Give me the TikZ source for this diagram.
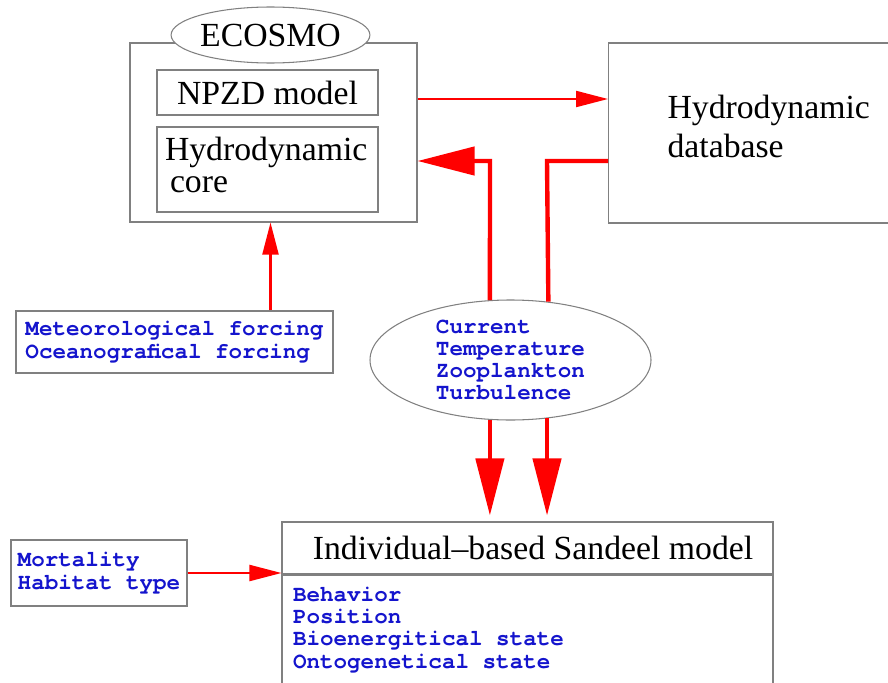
\documentclass[tikz,border=0pt]{standalone}
\usepackage{fontspec}
\setmainfont{Liberation Serif}
\setmonofont{TeX Gyre Cursor}
\usetikzlibrary{shapes}
\usetikzlibrary{calc}
\usetikzlibrary{arrows.meta}
\definecolor{listblue}{RGB}{20,20,205}
\providecommand\titlefont{\fontsize{19.2}{24.5}\selectfont}
\providecommand\listfont{\fontsize{12.85}{12.65}\selectfont\ttfamily\bfseries}

\begin{document}
\begin{tikzpicture}[%
        box/.style = {draw = black!50, line width = 0.6pt, fill = white, inner sep = 0pt},
        listtext/.style = {font = \listfont, text = listblue, align = left},
        thinarrow/.style = {draw = red, line width = 1.2pt,
            -{Triangle[length = 0.64cm, width = 0.32cm]}},
        fatline/.style = {draw = red, line width = 2.5pt},
        fatarrow/.style = {fatline, -{Triangle[length = 1.14cm, width = 0.56cm]}},
        ]

\useasboundingbox[] (0,0) rectangle (17.76,13.64);
\clip (0,0) rectangle (17.76,13.64);
% \draw (0,0) grid (17,13);


\node (eco) [box, minimum width = 5.74cm, minimum height = 3.58cm] at (5.47,10.99) {};
\node (econame) [box, ellipse, minimum width = 3.9cm, minimum height = 1.12cm] at (5.41,12.94)
    {\titlefont ECOSMO};
\node (npzd) [box, minimum width = 4.42cm, minimum height = 0.9cm] at (5.35,11.79)
    {\titlefont NPZD model};
\node (core) [box, minimum width = 4.42cm, minimum height = 1.7cm, text width = 4.1cm,
    align = left, font = \fontsize{19.2}{18}\selectfont] at (5.35,10.25)
    {Hydrodynamic\\ \hspace{0.1cm}core\strut};


\node (db) [box, anchor = west, minimum width = 6.46cm, minimum height = 3.6cm,
    text width = 4.1cm, align = left] at (12.16,10.98)
    {\titlefont Hydrodynamic\\ database\strut};


\node (met) [box, listtext, minimum width = 6.34cm, minimum height = 1.24cm] at (3.49,6.8)
    {Meteorological forcing\\ Oceanografical forcing};

\node (cur) [box, ellipse, listtext, minimum width = 5.62cm, minimum height = 2.4cm] at (10.21,6.44)
    {Current\\ Temperature\\ Zooplankton\\ Turbulence};


\node (mort) [box, listtext, minimum width = 3.52cm, minimum height = 1.32cm] at (1.98,2.18)
    {Mortality\\ Habitat type};

\node (ibm) [box, minimum width = 9.82cm, minimum height = 1.04cm] at (10.55,2.68)
    {\titlefont\hspace{0.22cm}Individual--based Sandeel model};
\node (state) [box, anchor = north, font = \listfont, text = listblue,
    inner xsep = 0.22cm, inner ysep = 0.24cm] at (ibm.south)
    {\parbox[t][2.3cm][t]{9.38cm}{\raggedright Behavior\\ Position\\
        Bioenergitical state\\ Ontogenetical state}};


\coordinate (npzdout) at ([yshift = -0.13cm]npzd.east);
\draw[thinarrow] (npzdout -| eco.east) -- (npzdout -| db.west);
\draw[thinarrow] (met.north -| econame.south) -- (eco.south -| econame.south);
\draw[thinarrow] (mort.east) -- (mort.east -| ibm.west);

\coordinate (joinL) at (9.8,10.42);
\coordinate (joinR) at (10.94,10.42);
\draw[fatarrow] (cur.109) -- (joinL) -- (joinL -| eco.east);
\draw[fatline] (joinR -| db.west) -- (joinR) -- (cur.57.8);
\foreach \ANG in {251,302.2}{
    \draw[fatarrow, shorten > = 0.12cm] (cur.\ANG) -- (cur.\ANG |- ibm.north);
    }


\end{tikzpicture}
\end{document}
